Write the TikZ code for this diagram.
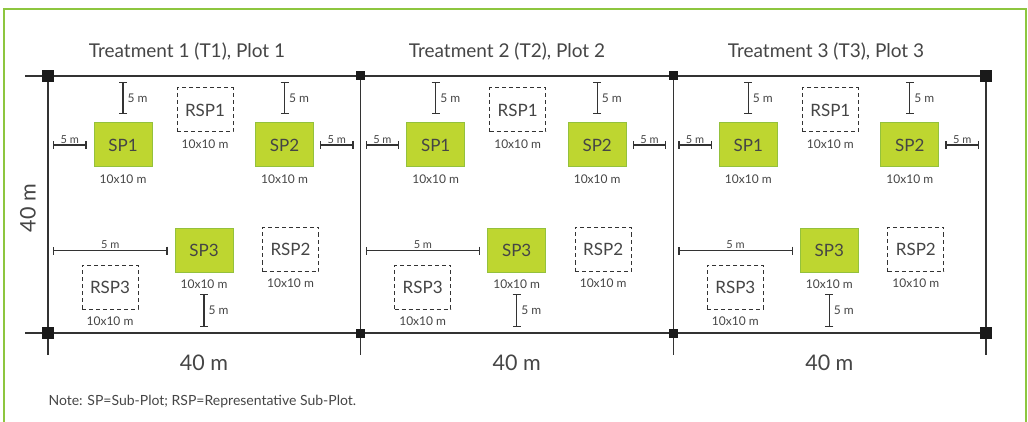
\documentclass[tikz,border=0pt]{standalone}
\usepackage{fontspec}
\setmainfont{Lato}
\usetikzlibrary{arrows.meta,positioning,calc}
\definecolor{FrameGreen}{HTML}{8DC63F}
\definecolor{PlotGreen}{HTML}{BED630}
\definecolor{PlotEdge}{HTML}{94C13C}
\definecolor{InkGray}{HTML}{333333}
\definecolor{TextGray}{HTML}{454545}
\definecolor{PostBlack}{HTML}{1A1A1A}

\begin{document}
\begin{tikzpicture}[x=1pt, y=-1pt,
    font=\fontsize{17}{19}\selectfont, text=TextGray,
    subplot/.style={draw=PlotEdge, line width=1pt, fill=PlotGreen, minimum width=58pt, minimum height=44pt, inner sep=0pt},
    refplot/.style={draw=InkGray, line width=1pt, dash pattern=on 4pt off 3pt, minimum width=56pt, minimum height=44pt, inner sep=0pt},
    area/.style={font=\fontsize{12}{14}\selectfont, inner sep=1pt},
    dimlbl/.style={font=\fontsize{#1}{13}\selectfont, inner sep=1pt},
    dim/.style={{Bar[width=8pt]}-{Bar[width=8pt]}, line width=1.2pt, draw=InkGray},
    plotline/.style={line width=1.4pt, draw=InkGray},
    post/.style={fill=PostBlack, minimum size=#1, inner sep=0pt, outer sep=0pt},
    big/.style={font=\fontsize{21.5}{24}\selectfont}
]
\useasboundingbox (0,0) rectangle (1028,422);
\coordinate (fr-sw) at (4,422);
\coordinate (fr-nw) at (4,9);
\coordinate (fr-ne) at (1026,9);
\coordinate (fr-se) at (1026,422);
\draw[FrameGreen, line width=1.5pt] (fr-sw) -- (fr-nw) -- (fr-ne) -- (fr-se);

\coordinate (tw) at (25,76);
\coordinate (bw) at (25,333);
\foreach \x/\s [count=\k from 0] in {48/12pt, 360.67/9pt, 673.33/9pt, 986/12pt} {
  \coordinate (f\k) at (\x,355);
  \coordinate (p\k) at (\x,76);
  \draw[plotline] (p\k) -- (f\k);
}
\draw[plotline] (tw) -- (p3);
\draw[plotline] (bw) -- (p3 |- bw);
\foreach \x/\s [count=\k from 0] in {48/12pt, 360.67/9pt, 673.33/9pt, 986/12pt} {
  \node[post=\s] (n\k) at (\x,76) {};
  \node[post=\s] (s\k) at (\x,333) {};
}

\foreach \i/\j/\tx in {0/1/187, 1/2/507, 2/3/826} {
  \node[font=\fontsize{19}{21}\selectfont] (title-\j) at (\tx,52) {Treatment \j\ (T\j), Plot \j};
  \begin{scope}[xshift=\i*312.67pt]
    \node[subplot] (sp1-\i) at (123,145) {SP1};
    \node[subplot] (sp2-\i) at (284.5,145) {SP2};
    \node[subplot] (sp3-\i) at (204,250.5) {SP3};
    \node[refplot] (rsp1-\i) at (205,110) {RSP1};
    \node[refplot] (rsp2-\i) at (290.5,249.5) {RSP2};
    \node[refplot] (rsp3-\i) at (110,287) {RSP3};
    \node[area, below=6pt of sp1-\i] (a1-\i) {10x10 m};
    \node[area, below=6pt of sp2-\i] (a2-\i) {10x10 m};
    \node[area, below=6pt of sp3-\i] (a3-\i) {10x10 m};
    \node[area, below=6pt of rsp1-\i] (ra1-\i) {10x10 m};
    \node[area, below=6pt of rsp2-\i] (ra2-\i) {10x10 m};
    \node[area, below=6pt of rsp3-\i] (ra3-\i) {10x10 m};
    \node[big] (w40-\i) at (204,363) {40 m};
  \end{scope}
  \draw[dim] ($(sp1-\i.north |- n\i.center)+(0,6)$) -- ($(sp1-\i.north)+(0,-8)$) node[dimlbl=12, midway, right=3pt] {5 m};
  \draw[dim] ($(sp2-\i.north |- n\i.center)+(0,6)$) -- ($(sp2-\i.north)+(0,-8)$) node[dimlbl=12, midway, right=3pt] {5 m};
  \draw[dim] ($(sp1-\i.west -| n\i.center)+(5,0)$) -- ($(sp1-\i.west)+(-7,0)$) node[dimlbl=11, midway, above=0pt] {5 m};
  \draw[dim] ($(sp2-\i.east)+(6,0)$) -- ($(sp2-\i.east -| n\j.center)+(-7,0)$) node[dimlbl=11, midway, above=0pt] {5 m};
  \draw[dim] ($(sp3-\i.west -| n\i.center)+(5,0)$) -- ($(sp3-\i.west)+(-7,0)$) node[dimlbl=11, midway, above=0pt] {5 m};
  \draw[dim] ($(sp3-\i.south)+(0,21)$) -- ($(sp3-\i.south |- s\i.center)+(0,-6)$) node[dimlbl=12, midway, right=3pt] {5 m};
}

\node[big, rotate=90] (h40) at (28,208) {40 m};
\node[anchor=west, font=\fontsize{14}{16}\selectfont] (note) at (45,402) {Note: SP=Sub-Plot; RSP=Representative Sub-Plot.};
\end{tikzpicture}
\end{document}
